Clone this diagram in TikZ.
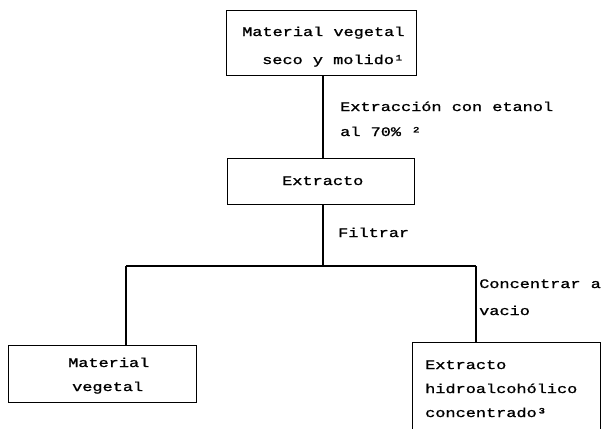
\documentclass[tikz,border=0pt]{standalone}
\usepackage{fontspec}
% wide, heavy monospace face in the manner of a dot-matrix printout
\newfontfamily\dotmono[FakeStretch=1.3,FakeBold=1.2]{Liberation Mono}
\tikzset{
  box/.style={draw, line width=1.4pt, inner sep=0pt, anchor=north west},
  txt/.style={anchor=base west, inner sep=0pt, font=\dotmono\fontsize{13}{13}\selectfont},
  link/.style={line width=1.4pt},
}
\begin{document}
\begin{tikzpicture}[x=1pt,y=-1pt]
\useasboundingbox (0,0) rectangle (606,429);
\clip (0,0) rectangle (606,429);

% process boxes
\node[box, minimum width=190pt, minimum height=65pt] (raw) at (226,10) {};
\node[box, minimum width=187pt, minimum height=46pt] (ext) at (227,158) {};
\node[box, minimum width=188pt, minimum height=57pt] (res) at (8,345) {};
\node[box, minimum width=188pt, minimum height=110pt] (conc) at (412,342) {};

% box texts
\node[txt] (raw1) at (242,36) {Material vegetal};
\node[txt] (raw2) at (262,64) {seco y molido¹};
\node[txt] (ext1) at (282,185) {Extracto};
\node[txt] (res1) at (68,367) {Material};
\node[txt] (res2) at (72,391) {vegetal};
\node[txt] (conc1) at (425,369) {Extracto};
\node[txt] (conc2) at (425,393) {hidroalcohólico};
\node[txt] (conc3) at (425,417) {concentrado³};

% step labels
\node[txt] (st1a) at (340,111) {Extracción con etanol};
\node[txt] (st1b) at (340,136) {al 70\% ²};
\node[txt] (st2) at (338,237) {Filtrar};
\node[txt] (st3a) at (479,288) {Concentrar a};
\node[txt] (st3b) at (479,315) {vacio};

% connectors
\coordinate (split) at (323,266);
\coordinate (jl) at (126,266);
\coordinate (jr) at (476,266);
\draw[link] (raw.south -| split) -- (ext.north -| split);
\draw[link] (ext.south -| split) -- (split);
\draw[link] (jl) -- (jr);
\draw[link] (jl) -- (jl |- res.north);
\draw[link] (jr) -- (jr |- conc.north);
\end{tikzpicture}
\end{document}
